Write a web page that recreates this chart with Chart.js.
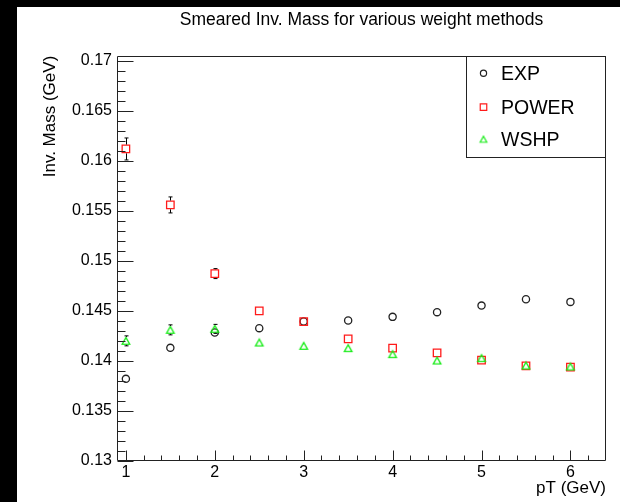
<!DOCTYPE html>
<html><head><meta charset="utf-8">
<script src="https://cdn.jsdelivr.net/npm/chart.js@4/dist/chart.umd.min.js"></script>
<style>
html,body{margin:0;padding:0;background:#000;width:620px;height:502px;overflow:hidden}
#wrap{position:absolute;left:17px;top:7px;width:603px;height:495px;background:#fff}
</style></head><body>
<div id="wrap"><canvas id="c"></canvas></div>
<script>
// ---- data ----
const pT = [1, 1.5, 2, 2.5, 3, 3.5, 4, 4.5, 5, 5.5, 6];
const expMass   = [0.13817, 0.14127, 0.1428, 0.14324, 0.1439, 0.1440, 0.14437, 0.14484, 0.1455, 0.14614, 0.14587];
const expErr    = [0.0003, 0.0003, 0.0003, 0.0003, 0.0003, 0.0003, 0.0003, 0.0003, 0.0003, 0.0003, 0.0003];
const powerMass = [0.16117, 0.15557, 0.1487, 0.14497, 0.1439, 0.14217, 0.14124, 0.14077, 0.14004, 0.13947, 0.13934];
const powerErr  = [0.0011, 0.0008, 0.0005, 0.0003, 0.0003, 0.0003, 0.0003, 0.0003, 0.0003, 0.0003, 0.0003];
const wshpMass  = [0.14197, 0.14307, 0.14317, 0.1418, 0.14147, 0.14124, 0.14064, 0.1400, 0.14024, 0.1395, 0.1394];
const wshpErr   = [0.0005, 0.0005, 0.00045, 0.0003, 0.0003, 0.0003, 0.0003, 0.0003, 0.0003, 0.0003, 0.0003];
const seriesNames = ['EXP', 'POWER', 'WSHP'];
const xTickValues = [1, 2, 3, 4, 5, 6];
const yTickValues = [0.13, 0.135, 0.14, 0.145, 0.15, 0.155, 0.16, 0.165, 0.17];
const yTickLabels = ['0.13', '0.135', '0.14', '0.145', '0.15', '0.155', '0.16', '0.165', '0.17'];
const chartTitle = 'Smeared Inv. Mass for various weight methods';
const xTitle = 'pT (GeV)';
const yTitle = 'Inv. Mass (GeV)';

const FONT = '"Liberation Sans", Arial, Helvetica, sans-serif';
const toPts = (xs, ys) => xs.map((x, i) => ({x: x, y: ys[i]}));
const errs = [expErr, powerErr, wshpErr];
const GREEN = '#19ec19', RED = '#ff1a1a', BLACK = '#222';

// ROOT-like open triangle (bounding box centred on the point)
function makeTriangle(hw, hh, color, lw) {
  const c = document.createElement('canvas');
  c.width = 14; c.height = 14;
  const g = c.getContext('2d');
  g.strokeStyle = color; g.lineWidth = lw;
  g.beginPath();
  g.moveTo(7, 7 - hh); g.lineTo(7 + hw, 7 + hh); g.lineTo(7 - hw, 7 + hh); g.closePath();
  g.stroke();
  return c;
}
const triImg = makeTriangle(3.8, 3.4, GREEN, 1.3);
const triImgLeg = makeTriangle(3.3, 3.0, GREEN, 1.2);

function drawMarker(ctx, kind, x, y, r, color, lw) {
  ctx.save();
  if (kind === 'triangle') { ctx.drawImage(triImgLeg, x - 7, y - 7); ctx.restore(); return; }
  ctx.strokeStyle = color; ctx.lineWidth = lw;
  ctx.beginPath();
  if (kind === 'circle') ctx.arc(x, y, r, 0, Math.PI * 2);
  else { const s = Math.SQRT1_2 * r; ctx.rect(x - s, y - s, 2 * s, 2 * s); }
  ctx.stroke();
  ctx.restore();
}

const errorBars = {
  id: 'errorBars',
  afterDatasetDraw(chart, args) {
    const i = args.index;
    const e = errs[i];
    const ds = chart.data.datasets[i];
    const ys = chart.scales.y;
    const ctx = chart.ctx;
    const half = ds.markerKind === 'rect' ? Math.SQRT1_2 * ds.pointRadius + 0.7 :
                 ds.markerKind === 'triangle' ? 4.0 : ds.pointRadius + 0.6;
    ctx.save();
    ctx.strokeStyle = '#000'; ctx.lineWidth = 1;
    args.meta.data.forEach((pt, k) => {
      const v = ds.data[k].y;
      const top = ys.getPixelForValue(v + e[k]);
      const bot = ys.getPixelForValue(v - e[k]);
      const x = Math.round(pt.x) + 0.5;
      if (pt.y - top > half + 0.3) {
        ctx.beginPath();
        ctx.moveTo(x, pt.y - half); ctx.lineTo(x, top);
        ctx.moveTo(x - 2, top); ctx.lineTo(x + 2, top);
        ctx.moveTo(x, pt.y + half); ctx.lineTo(x, bot);
        ctx.moveTo(x - 2, bot); ctx.lineTo(x + 2, bot);
        ctx.stroke();
      }
    });
    ctx.restore();
  }
};

const frameTicksLegend = {
  id: 'frameTicksLegend',
  afterDraw(chart) {
    const ctx = chart.ctx;
    const a = chart.chartArea;
    const xs = chart.scales.x, ys = chart.scales.y;
    ctx.save();
    ctx.strokeStyle = '#222'; ctx.lineWidth = 1;
    const L = Math.round(a.left) + 0.5, R = Math.round(a.right) - 0.5;
    const T = Math.round(a.top) + 0.5, B = Math.round(a.bottom) - 0.5;
    ctx.beginPath();
    ctx.moveTo(L, T); ctx.lineTo(R, T); ctx.lineTo(R, B); ctx.lineTo(L, B); ctx.closePath();
    ctx.stroke();
    ctx.beginPath();
    for (let i = 130; i <= 170; i++) {
      const y = Math.round(ys.getPixelForValue(i / 1000)) + 0.5;
      const len = (i % 5 === 0) ? 16 : 8;
      ctx.moveTo(L, y); ctx.lineTo(L + len, y);
    }
    for (let i = 10; i <= 62; i += 2) {
      const x = Math.round(xs.getPixelForValue(i / 10)) + 0.5;
      const len = (i % 10 === 0) ? 10 : 5;
      ctx.moveTo(x, B); ctx.lineTo(x, B - len);
    }
    ctx.stroke();
    // legend
    const lx1 = Math.round(a.right - 140) + 0.5, ly1 = T, ly2 = Math.round(a.top + 101) + 0.5;
    ctx.fillStyle = '#fff';
    ctx.fillRect(lx1, ly1, R - lx1, ly2 - ly1);
    ctx.strokeStyle = '#222';
    ctx.strokeRect(lx1, ly1, R - lx1, ly2 - ly1);
    const rowY = [17.5, 51.5, 83.5];
    const legR = {circle: 3.1, rect: 4.6, triangle: 3.7};
    chart.data.datasets.forEach((ds, k) => {
      const y = a.top + rowY[k];
      drawMarker(ctx, ds.markerKind, lx1 + 17, y, legR[ds.markerKind], ds.pointBorderColor, 1.2);
      ctx.fillStyle = '#000';
      ctx.font = '19.5px ' + FONT;
      ctx.textBaseline = 'middle';
      ctx.textAlign = 'left';
      ctx.fillText(ds.label, lx1 + 34.5, y + 1);
    });
    ctx.restore();
  }
};

new Chart(document.getElementById('c'), {
  type: 'scatter',
  data: {
    datasets: [
      {label: seriesNames[0], data: toPts(pT, expMass), markerKind: 'circle', pointStyle: 'circle', pointRadius: 3.6,
       pointBorderColor: BLACK, pointBackgroundColor: 'rgba(0,0,0,0)', pointBorderWidth: 1.3, order: 3},
      {label: seriesNames[1], data: toPts(pT, powerMass), markerKind: 'rect', pointStyle: 'rect', pointRadius: 5.3,
       pointBorderColor: RED, pointBackgroundColor: 'rgba(0,0,0,0)', pointBorderWidth: 1.3, order: 2},
      {label: seriesNames[2], data: toPts(pT, wshpMass), markerKind: 'triangle', pointStyle: triImg, pointRadius: 4.3,
       pointBorderColor: GREEN, pointBackgroundColor: 'rgba(0,0,0,0)', pointBorderWidth: 1.3, order: 1}
    ]
  },
  options: {
    responsive: true,
    maintainAspectRatio: false,
    animation: false,
    events: [],
    layout: {padding: {left: 0, right: 14, top: 0, bottom: 0}},
    plugins: {
      legend: {display: false},
      tooltip: {enabled: false},
      title: {
        display: true, text: chartTitle, fullSize: false, color: '#000',
        font: {family: FONT, size: 17.5, weight: 'normal', lineHeight: 1.2},
        padding: {top: 3, bottom: 24.7}
      }
    },
    scales: {
      x: {
        type: 'linear', min: 0.9, max: 6.4,
        afterBuildTicks: s => { s.ticks = xTickValues.map(v => ({value: v})); },
        afterFit: s => { s.height = 41.5; },
        grid: {display: false, drawTicks: false},
        border: {display: false},
        ticks: {color: '#000', font: {family: FONT, size: 16}, padding: 2, maxRotation: 0, autoSkip: false,
                callback: v => String(v)},
        title: {display: true, text: xTitle, align: 'end', color: '#000',
                font: {family: FONT, size: 17, weight: 'normal', lineHeight: 1.2}, padding: {top: 0, bottom: 3}}
      },
      y: {
        type: 'linear', min: 0.13, max: 0.1705,
        afterBuildTicks: s => { s.ticks = yTickValues.map(v => ({value: v})); },
        afterFit: s => { s.width = 100; },
        grid: {display: false, drawTicks: false},
        border: {display: false},
        ticks: {color: '#000', font: {family: FONT, size: 16}, padding: 5, autoSkip: false,
                callback: (v, i) => yTickLabels[i]},
        title: {display: true, text: yTitle, align: 'end', color: '#000',
                font: {family: FONT, size: 17, weight: 'normal', lineHeight: 1.2}, padding: {top: 23, bottom: 0}}
      }
    }
  },
  plugins: [errorBars, frameTicksLegend]
});
</script>
</body></html>
